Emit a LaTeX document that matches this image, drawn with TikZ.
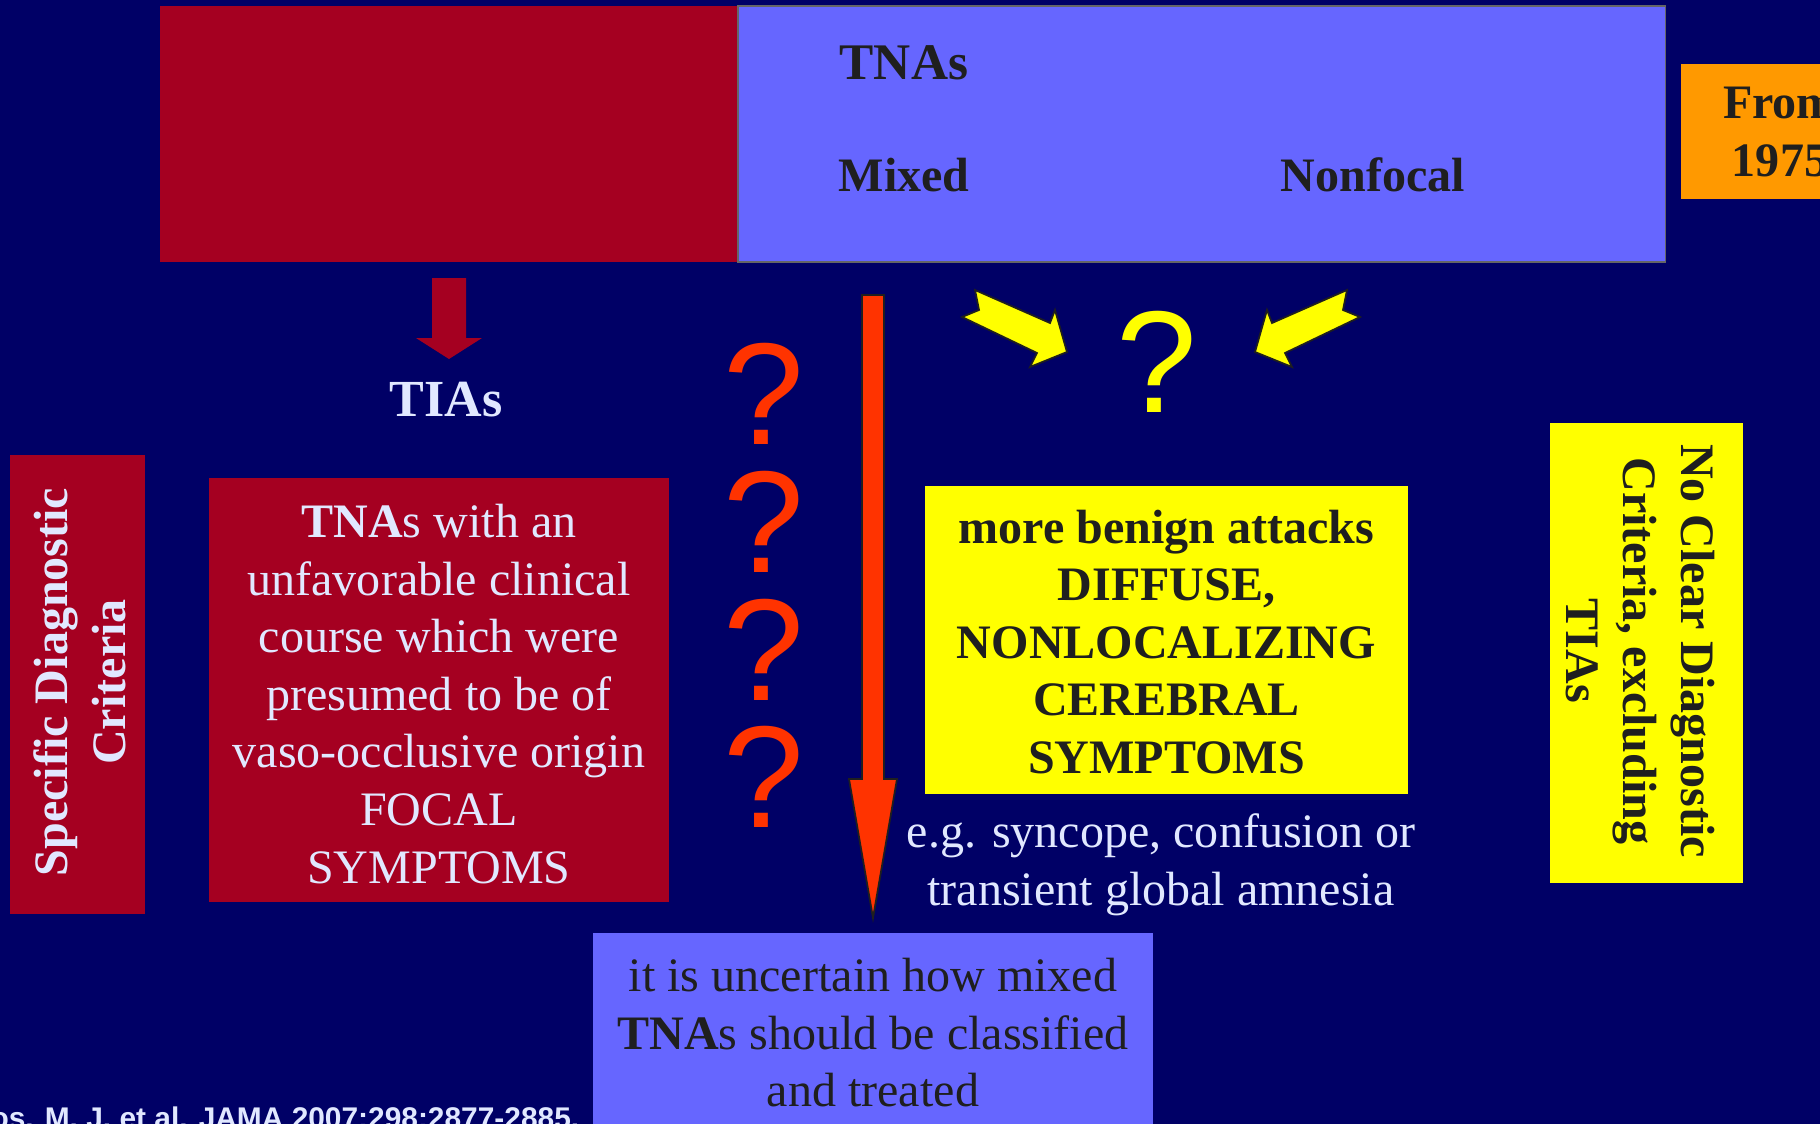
\documentclass[tikz,border=0pt]{standalone}
\usepackage{fontspec}
\setmainfont{Liberation Serif}
\setsansfont{Liberation Sans}
\usepackage{xcolor}
\usepackage{tikz}

\definecolor{navy}{HTML}{000066}
\definecolor{slidered}{HTML}{A50021}
\definecolor{lilac}{HTML}{6666FF}
\definecolor{amber}{HTML}{FF9900}
\definecolor{lemon}{HTML}{FFFF00}
\definecolor{flame}{HTML}{FF3300}
\definecolor{paper}{HTML}{E1E8FF}
\definecolor{ink}{HTML}{1F1F1F}

\begin{document}
\begin{tikzpicture}[x=0.01cm,y=-0.01cm,
  txt/.style={font=\fontsize{13.66}{16.36}\selectfont,align=center,inner sep=0pt},
  btxt/.style={txt,font=\fontsize{13.66}{16.36}\selectfont\bfseries},
  qmark/.style={font=\sffamily\fontsize{41.25}{45}\selectfont,inner sep=0pt,text height=1.05cm,text depth=0pt},
  panel/.style={inner sep=0pt,outer sep=0pt}]
\useasboundingbox (0,0) rectangle (1820,1124);
\clip (0,0) rectangle (1820,1124);
\fill[navy] (0,0) rectangle (1820,1124);

% top bar
\node[panel,fill=slidered,minimum width=5.78cm,minimum height=2.56cm,anchor=north west] at(160,6) (tiabar) {};
\node[panel,fill=lilac,draw=black!60,line width=0.5pt,minimum width=9.27cm,minimum height=2.56cm,anchor=north west] at(738,6) (tnabar) {};

\node[btxt,font=\fontsize{14.6}{17}\selectfont\bfseries,text=ink,anchor=base west] at(839,79) (tnas) {TNAs};
\node[btxt,text=ink,anchor=base west] at(838,191) (mixed) {Mixed};
\node[btxt,text=ink,anchor=base west] at(1280,191) (nonfocal) {Nonfocal};

\node[panel,fill=amber,minimum width=2.2cm,minimum height=1.35cm,anchor=north west] at(1681,64) (frombox) {};
\node[btxt,text=ink] at(1780,132) (fromtxt) {From\\1975};


% left side
\fill[slidered] (432,278) -- (466,278) -- (466,338) -- (482,338) -- (449,359) -- (416,338) -- (432,338) -- cycle;
\node[font=\fontsize{14.8}{17}\selectfont\bfseries,text=paper,anchor=base,inner sep=0pt] at(446,416) (tias) {TIAs};

\node[panel,fill=slidered,minimum width=1.35cm,minimum height=4.59cm] at(77.5,684.5) (specbox) {};
\node[btxt,text=paper,rotate=90] at(80,682) (spectxt) {Specific Diagnostic\\Criteria};

\node[panel,fill=slidered,minimum width=4.6cm,minimum height=4.24cm] at(439,690) (focalbox) {};
\node[txt,text=paper] at(439,694) (focaltxt) {\textbf{TNA}s with an\\unfavorable clinical\\course which were\\presumed to be of\\vaso-occlusive origin\\FOCAL\\SYMPTOMS};


% question marks
\node[qmark,text=flame] at(764,392) (q1) {?};
\node[qmark,text=flame] at(764,520) (q2) {?};
\node[qmark,text=flame] at(764,648) (q3) {?};
\node[qmark,text=flame] at(764,775) (q4) {?};
\node[qmark,text=lemon] at(1157,360) (qy) {?};


% arrows
\filldraw[fill=flame,draw=ink,line width=0.5pt] (862,295) -- (884,295) -- (884,779) -- (897,779) -- (873,918) -- (849,779) -- (862,779) -- cycle;
\filldraw[fill=lemon,draw=ink,line width=0.5pt] (975,290) -- (1050,323) -- (1055,310) -- (1067,352) -- (1030,367) -- (1037,353) -- (962,317) -- (979,310) -- cycle;
\filldraw[fill=lemon,draw=ink,line width=0.5pt] (1347,290) -- (1272,323) -- (1267,310) -- (1255,352) -- (1292,367) -- (1285,353) -- (1360,317) -- (1343,310) -- cycle;


% right side
\node[panel,fill=lemon,minimum width=4.83cm,minimum height=3.08cm] at(1166.5,640) (benignbox) {};
\node[btxt,text=ink] at(1166.5,642) (benigntxt) {more benign attacks\\DIFFUSE,\\NONLOCALIZING\\CEREBRAL\\SYMPTOMS};
\node[txt,text=paper] at(1161,865) (egtxt) {e.g. syncope, confusion or\\transient global amnesia};

\node[panel,fill=lemon,minimum width=1.93cm,minimum height=4.6cm] at(1646.5,653) (nocritbox) {};
\node[btxt,text=ink,rotate=-90] at(1640,651) (nocrittxt) {No Clear Diagnostic\\Criteria, excluding\\TIAs};


% bottom
\node[panel,fill=lilac,minimum width=5.6cm,minimum height=2.2cm,anchor=north] at(873,933) (howbox) {};
\node[txt,text=ink] at(873,1033) (howtxt) {it is uncertain how mixed\\\textbf{TNA}s should be classified\\and treated};

\node[font=\sffamily\bfseries\fontsize{8.5}{10}\selectfont,text=paper,anchor=base east,inner sep=0pt] at(580,1128) (cite) {os. M. J. et al. JAMA 2007;298:2877-2885.};
\end{tikzpicture}
\end{document}
